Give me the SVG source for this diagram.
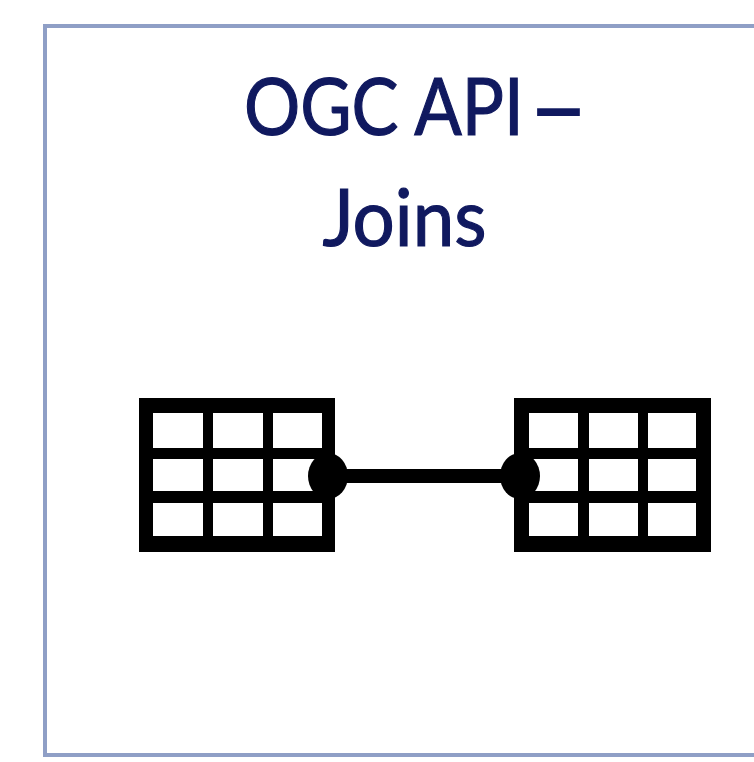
<svg xmlns="http://www.w3.org/2000/svg" width="754" height="762" viewBox="0 0 754 762">
<style>
.t{font-family:"Lato","Open Sans","Liberation Sans",sans-serif;font-size:79px;fill:#10195f;stroke:#10195f;stroke-width:1.2}
.c{fill:#fff}
.b{fill:#000}
</style>
<rect width="754" height="762" fill="#fff"/>
<rect id="frame" x="45" y="26" width="730" height="729" fill="#fff" stroke="#8f9fc6" stroke-width="4"/>
<g id="title">
<text class="t" transform="translate(244 135) scale(.89 1)">OGC API<tspan font-size="17"> </tspan><tspan dy="13.400" font-size="120" stroke-width="0">–</tspan></text>
<text class="t" x="404.500" y="246" text-anchor="middle" textLength="164" lengthAdjust="spacingAndGlyphs">Joins</text>
</g>
<g id="table-left">
<rect class="b" x="139" y="398" width="196" height="154"/>
<path class="c" d="M153 413H203V448H153ZM213 413H263V448H213ZM273 413H322V448H273ZM153 459H203V491H153ZM213 459H263V491H213ZM273 459H322V491H273ZM153 503H203V536H153ZM213 503H263V536H213ZM273 503H322V536H273Z"/>
</g>
<g id="table-right">
<rect class="b" x="514" y="398" width="197" height="154"/>
<path class="c" d="M529 413H578V448H529ZM589 413H638V448H589ZM648 413H696V448H648ZM529 459H578V491H529ZM589 459H638V491H589ZM648 459H696V491H648ZM529 503H578V536H529ZM589 503H638V536H589ZM648 503H696V536H648Z"/>
</g>
<g id="connectors">
<path d="M328 476H520" stroke="#000" stroke-width="14" fill="none"/>
<ellipse class="b" cx="328" cy="476" rx="20" ry="23"/>
<ellipse class="b" cx="520" cy="476" rx="20" ry="23"/>
</g>
</svg>
